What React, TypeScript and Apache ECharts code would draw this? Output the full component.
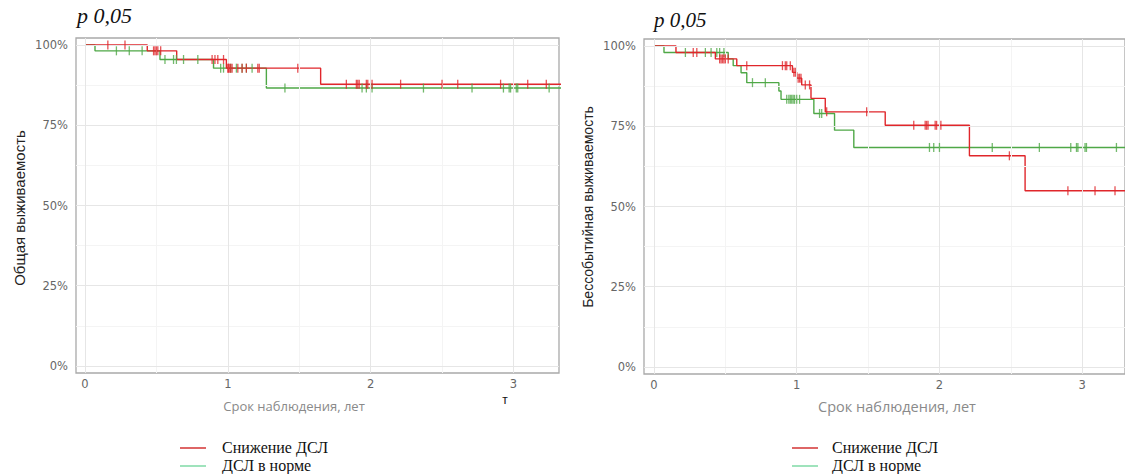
import React, { useEffect, useRef } from "react";
import * as echarts from "echarts";

// ---------- data ----------
// Left panel: overall survival
const osRedTimes = [0, 0.436, 0.642, 0.99, 1.65];
const osRedSurv = [100, 98.2, 95.5, 92.8, 87.8];
const osRedCensor = [0.16, 0.28, 0.48, 0.49, 0.5, 0.51, 0.53, 0.89, 0.91, 0.93, 0.97, 1.0, 1.005, 1.01, 1.02, 1.03, 1.07, 1.1, 1.13, 1.21, 1.22, 1.49, 1.83, 1.9, 1.91, 1.92, 1.97, 1.98, 2.01, 2.21, 2.5, 2.61, 2.91, 3.1, 3.23];
const osGreenTimes = [0, 0.07, 0.525, 0.9, 1.27];
const osGreenSurv = [100, 98.2, 95.5, 92.8, 86.6];
const osGreenCensor = [0.22, 0.31, 0.4, 0.56, 0.62, 0.64, 0.69, 0.79, 0.95, 0.97, 1.02, 1.06, 1.1, 1.13, 1.17, 1.4, 1.94, 1.97, 2.01, 2.37, 2.71, 2.93, 2.97, 2.98, 3.02, 3.03, 3.25];

// Right panel: event-free survival
const efsRedTimes = [0, 0.154, 0.43, 0.58, 0.97, 1.0, 1.035, 1.1, 1.2, 1.62, 2.21, 2.6];
const efsRedSurv = [100, 98.0, 96.0, 93.9, 91.8, 90.0, 87.9, 83.7, 79.5, 75.3, 65.8, 54.9];
const efsRedCensor = [0.275, 0.3, 0.46, 0.47, 0.48, 0.49, 0.5, 0.52, 0.65, 0.9, 0.92, 0.93, 0.955, 0.98, 0.99, 1.01, 1.02, 1.03, 1.06, 1.09, 1.21, 1.49, 1.82, 1.9, 1.91, 1.92, 1.97, 1.98, 2.01, 2.49, 2.9, 3.09, 3.23];
const efsGreenTimes = [0, 0.07, 0.52, 0.555, 0.61, 0.65, 0.875, 0.89, 1.12, 1.265, 1.4];
const efsGreenSurv = [100, 98.0, 96.0, 93.9, 91.7, 88.6, 86.0, 83.4, 79.0, 73.8, 68.4];
const efsGreenCensor = [0.22, 0.36, 0.4, 0.44, 0.46, 0.49, 0.69, 0.78, 0.93, 0.945, 0.955, 0.965, 0.975, 0.985, 1.0, 1.02, 1.16, 1.175, 1.93, 1.96, 2.0, 2.37, 2.7, 2.92, 2.96, 2.97, 3.02, 3.03, 3.24];

const followUpEnd = 3.4;

const xTicks = [0, 1, 2, 3];
const xMinorTicks = [0.5, 1.5, 2.5, 3.5];
const yTicks = [0, 25, 50, 75, 100];
const yMinorTicks = [12.5, 37.5, 62.5, 87.5];

const groupNames = ["Снижение ДСЛ", "ДСЛ в норме"];
const yTitles = ["Общая выживаемость", "Бессобытийная выживаемость"];
const xTitle = "Срок наблюдения, лет";
const pText = "p 0,05";

// ---------- styles ----------
const RED = "#e0262b";
const GREEN = "#4fa847";
const LEG_RED = "#c80000";
const LEG_GREEN = "#5fd08f";
const TICK_FONT = "DejaVu Sans";

function stepData(times: number[], surv: number[]) {
  const d = times.map((t, i) => [t, surv[i]]);
  d.push([followUpEnd, surv[surv.length - 1]]);
  return d;
}
function survAt(times: number[], surv: number[], t: number) {
  let s = surv[0];
  for (let i = 0; i < times.length; i++) if (times[i] <= t) s = surv[i];
  return s;
}
function censorData(times: number[], surv: number[], cens: number[]) {
  return cens.map((c) => [c, survAt(times, surv, c)]);
}

export default function App() {
  const ref = useRef<HTMLDivElement>(null);
  useEffect(() => {
    if (!ref.current) return;
    const chart = echarts.init(ref.current, null, { renderer: "svg" });

    const grids = [
      { left: 76, top: 38, width: 483, height: 335 },
      { left: 644, top: 39, width: 481, height: 335 },
    ];
    const xRanges = [
      [-0.063, 3.319],
      [-0.07, 3.3],
    ];

    const xAxes = xRanges.map((r, i) => ({
      type: "value",
      gridIndex: i,
      min: r[0],
      max: r[1],
      axisLine: { show: false },
      splitLine: { show: false },
      axisTick: { show: true, customValues: xTicks, length: 4, lineStyle: { color: "#777", width: 1 } },
      axisLabel: {
        show: true,
        customValues: xTicks,
        margin: 5,
        color: "#666",
        fontFamily: TICK_FONT,
        fontSize: 11.5,
      },
    }));
    const yAxes = [0, 1].map((i) => ({
      type: "value",
      gridIndex: i,
      min: -2.2,
      max: 102.2,
      axisLine: { show: false },
      splitLine: { show: false },
      axisTick: { show: true, customValues: yTicks, length: 4, lineStyle: { color: "#777", width: 1 } },
      axisLabel: {
        show: true,
        customValues: yTicks,
        margin: 8,
        color: "#666",
        fontFamily: TICK_FONT,
        fontSize: 11.5,
        formatter: (v: number) => v + "%",
      },
    }));

    const panels = [
      { rT: osRedTimes, rS: osRedSurv, rC: osRedCensor, gT: osGreenTimes, gS: osGreenSurv, gC: osGreenCensor },
      { rT: efsRedTimes, rS: efsRedSurv, rC: efsRedCensor, gT: efsGreenTimes, gS: efsGreenSurv, gC: efsGreenCensor },
    ];

    const series: any[] = [];
    panels.forEach((p, i) => {
      const gridLine = (color: string, data: any[]) => ({
        type: "line",
        xAxisIndex: i,
        yAxisIndex: i,
        data: [],
        silent: true,
        z: 0,
        markLine: {
          silent: true,
          symbol: ["none", "none"],
          label: { show: false },
          lineStyle: { color, width: 1, type: "solid" },
          data,
        },
      });
      series.push(
        gridLine(
          "#f4f4f4",
          [...xMinorTicks.map((v) => ({ xAxis: v })), ...yMinorTicks.map((v) => ({ yAxis: v }))]
        )
      );
      series.push(
        gridLine(
          "#e6e6e6",
          [...xTicks.map((v) => ({ xAxis: v })), ...yTicks.map((v) => ({ yAxis: v }))]
        )
      );
      series.push({
        type: "line",
        name: groupNames[1],
        xAxisIndex: i,
        yAxisIndex: i,
        step: "end",
        showSymbol: false,
        symbol: "none",
        data: stepData(p.gT, p.gS),
        lineStyle: { color: GREEN, width: 1.4 },
        z: 3,
      });
      series.push({
        type: "line",
        name: groupNames[0],
        xAxisIndex: i,
        yAxisIndex: i,
        step: "end",
        showSymbol: false,
        symbol: "none",
        data: stepData(p.rT, p.rS),
        lineStyle: { color: RED, width: 1.4 },
        z: 4,
      });
      series.push({
        type: "scatter",
        xAxisIndex: i,
        yAxisIndex: i,
        symbol: "rect",
        symbolSize: [1.3, 9],
        itemStyle: { color: GREEN },
        data: censorData(p.gT, p.gS, p.gC),
        z: 5,
      });
      series.push({
        type: "scatter",
        xAxisIndex: i,
        yAxisIndex: i,
        symbol: "rect",
        symbolSize: [1.3, 9],
        itemStyle: { color: RED },
        data: censorData(p.rT, p.rS, p.rC),
        z: 6,
      });
    });

    const legendPos = [
      { lx: 180, tx: 222 },
      { lx: 792, tx: 832 },
    ];

    const graphic: any[] = [];
    // p value texts
    graphic.push({
      type: "text",
      left: 77,
      top: 4,
      style: { text: pText, font: "italic 22px 'Liberation Serif'", fill: "#111" },
    });
    graphic.push({
      type: "text",
      left: 654,
      top: 9,
      style: { text: pText, font: "italic 21px 'Liberation Serif'", fill: "#111" },
    });
    // y titles
    const yTitlePos = [
      { x: 19, y: 208, size: 15 },
      { x: 588, y: 207, size: 14 },
    ];
    yTitlePos.forEach((p, i) => {
      graphic.push({
        type: "text",
        x: p.x,
        y: p.y,
        rotation: Math.PI / 2,
        style: {
          text: yTitles[i],
          font: `${p.size}px 'Liberation Sans'`,
          fill: "#222",
          textAlign: "center",
          textVerticalAlign: "middle",
        },
      });
    });
    // x titles
    const xTitlePos = [
      { x: 294, y: 406, size: 13 },
      { x: 897, y: 406, size: 14.5 },
    ];
    xTitlePos.forEach((p) => {
      graphic.push({
        type: "text",
        x: p.x,
        y: p.y,
        style: {
          text: xTitle,
          font: `${p.size}px 'Open Sans'`,
          fill: "#8a8a8a",
          textAlign: "center",
          textVerticalAlign: "middle",
        },
      });
    });
    // stray letter
    graphic.push({
      type: "text",
      x: 505,
      y: 400,
      style: { text: "т", font: "12px 'Liberation Sans'", fill: "#111", textAlign: "center", textVerticalAlign: "middle" },
    });
    // legends
    legendPos.forEach((p) => {
      const rows = [
        { y: 447, color: LEG_RED, text: groupNames[0] },
        { y: 465, color: LEG_GREEN, text: groupNames[1] },
      ];
      rows.forEach((r) => {
        graphic.push({
          type: "line",
          shape: { x1: p.lx, y1: r.y + 1, x2: p.lx + 26, y2: r.y + 1 },
          style: { stroke: r.color, lineWidth: 1.2 },
        });
        graphic.push({
          type: "text",
          x: p.tx,
          y: r.y,
          style: {
            text: r.text,
            font: "16px 'Liberation Serif'",
            fill: "#111",
            textAlign: "left",
            textVerticalAlign: "middle",
          },
        });
      });
    });

    chart.setOption({
      animation: false,
      backgroundColor: "#ffffff",
      grid: grids.map((g) => ({
        ...g,
        show: true,
        borderColor: "#a9a9a9",
        borderWidth: 1.3,
        backgroundColor: "transparent",
        containLabel: false,
      })),
      xAxis: xAxes,
      yAxis: yAxes,
      series,
      graphic,
    });
    return () => chart.dispose();
  }, []);

  return (
    <div
      ref={ref}
      style={{ position: "absolute", left: 0, top: 0, width: 1125, height: 474, background: "#fff" }}
    />
  );
}
